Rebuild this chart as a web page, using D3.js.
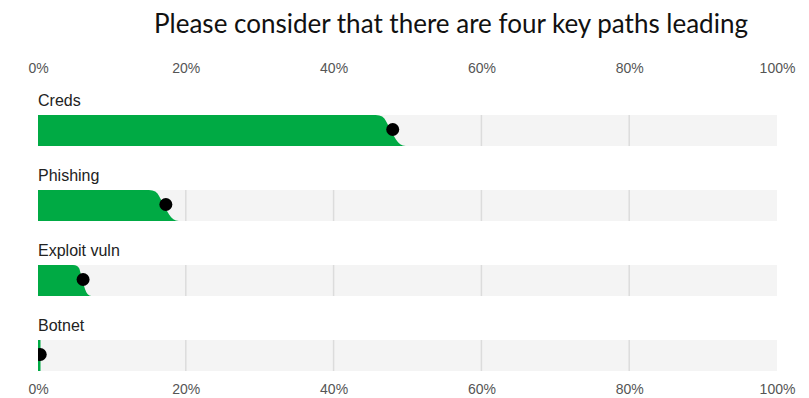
<!DOCTYPE html>
<html><head><meta charset="utf-8">
<script src="https://cdn.jsdelivr.net/npm/d3@7"></script>
<style>body{margin:0;background:#fff}svg{display:block}</style>
</head><body>
<svg id="c" width="809" height="398"></svg>
<script>
const categories = ["Creds", "Phishing", "Exploit vuln", "Botnet"];
const values = [48, 17.3, 6.1, 0.3];
const tickValues = [0, 20, 40, 60, 80, 100];
const tickLabels = ["0%", "20%", "40%", "60%", "80%", "100%"];
const title = "Please consider that there are four key paths leading";

const svg = d3.select("#c");
const x = d3.scaleLinear().domain([0, 100]).range([38, 777]);
const y = d3.scaleBand().domain(categories).range([90, 390]).paddingInner(0).paddingOuter(0);
const trackTop = 25, trackH = 31;

svg.append("text").attr("x", 451).attr("y", 33).attr("text-anchor", "middle")
  .attr("font-family", "Lato, 'Open Sans', sans-serif").attr("font-size", 26).attr("fill", "#111").text(title);

const fmt = d => tickLabels[tickValues.indexOf(d)];
const topAxis = svg.append("g").attr("transform", "translate(0,68)")
  .call(d3.axisTop(x).tickValues(tickValues).tickFormat(fmt).tickSize(0).tickPadding(0));
const botAxis = svg.append("g").attr("transform", "translate(0,389)")
  .call(d3.axisBottom(x).tickValues(tickValues).tickFormat(fmt).tickSize(0).tickPadding(0));
[topAxis, botAxis].forEach(a => {
  a.select(".domain").remove();
  a.selectAll("text").attr("font-family", "'Liberation Sans', Arial, sans-serif").attr("font-size", 14)
    .attr("fill", "#555").attr("dy", "0.35em");
});

const defs = svg.append("defs");
categories.forEach((c, i) => {
  const g = svg.append("g").attr("transform", `translate(0,${y(c)})`);
  g.append("text").attr("x", 38).attr("y", 16).attr("font-family", "'Liberation Sans', Arial, sans-serif")
    .attr("font-size", 16).attr("fill", "#222").text(c);
  const t0 = trackTop, t1 = trackTop + trackH;
  defs.append("clipPath").attr("id", "clip" + i).append("rect")
    .attr("x", x(0)).attr("y", t0).attr("width", x(100) - x(0)).attr("height", trackH);
  g.append("rect").attr("x", x(0)).attr("y", t0).attr("width", x(100) - x(0)).attr("height", trackH).attr("fill", "#f4f4f4");
  g.selectAll("line.grid").data(tickValues.slice(1, -1)).join("line")
    .attr("x1", d => x(d)).attr("x2", d => x(d)).attr("y1", t0).attr("y2", t1)
    .attr("stroke", "#dcdcdc").attr("stroke-width", 1.5);
  const cg = g.append("g").attr("clip-path", `url(#clip${i})`);
  const v = values[i];
  const xv = x(v);
  if (v < 1) {
    cg.append("rect").attr("x", x(0)).attr("y", t0).attr("width", 2.5).attr("height", trackH).attr("fill", "#00aa44");
  } else {
    const w = Math.min(11, (xv - x(0)) * 0.14);
    const a = xv - w, b = xv + w + 2;
    const r = Math.min(6, w * 0.6);
    const p = d3.path();
    p.moveTo(x(0), t0);
    p.lineTo(a - r, t0);
    p.quadraticCurveTo(a + r * 0.3, t0, a + r * 0.7, t0 + r);
    p.bezierCurveTo(xv + w * 0.2, t0 + 22, xv + w * 0.4, t1, b, t1);
    p.lineTo(x(0), t1);
    p.closePath();
    cg.append("path").attr("d", p.toString()).attr("fill", "#00aa44");
  }
  cg.append("circle").attr("cx", xv).attr("cy", t0 + trackH / 2 - 1).attr("r", 6.5).attr("fill", "#000");
});
</script>
</body></html>
